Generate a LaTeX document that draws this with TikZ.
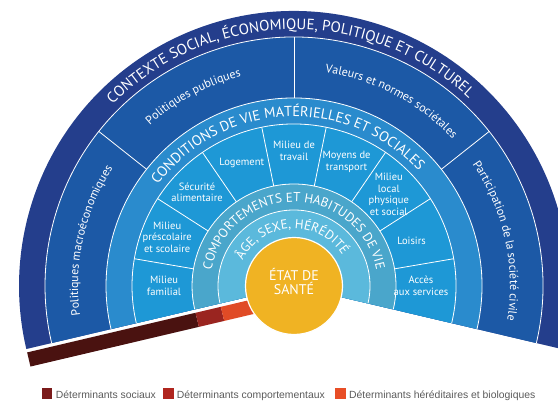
\documentclass[tikz,border=0pt]{standalone}
\usepackage{fontspec}
\setmainfont{PT Sans}
\newfontfamily\legendfont{Liberation Sans}
\usetikzlibrary{calc,decorations.text}

\definecolor{cOuter}{HTML}{243E8C}
\definecolor{cPol}{HTML}{1C59A6}
\definecolor{cCond}{HTML}{2A8BCD}
\definecolor{cSect}{HTML}{1E98D6}
\definecolor{cComp}{HTML}{4AA6CB}
\definecolor{cAge}{HTML}{5BB9DC}
\definecolor{cGold}{HTML}{F0B323}
\definecolor{cBarA}{HTML}{4A1210}
\definecolor{cBarB}{HTML}{9A2520}
\definecolor{cBarC}{HTML}{E04B26}
\definecolor{cLegA}{HTML}{7B1B1B}
\definecolor{cLegB}{HTML}{B0261F}
\definecolor{cLegC}{HTML}{E84E26}
\definecolor{cLegText}{HTML}{5A5A5A}

\newcommand\curvedlabel[5]{%
  \path[decorate, decoration={text along path, text align=center,
      text={|\fontsize{#4}{#4}\selectfont\color{white}|#5}}]
    ($(C)+(#2:#1)$) arc[start angle=#2, end angle=#3, radius=#1];
}

\tikzset{
  sepline/.style={white, line width=0.8pt},
  sectlbl/.style={text=white, align=center, inner sep=0pt,
      font=\fontsize{10.5}{11.5}\selectfont},
  goldlbl/.style={text=white, align=center, inner sep=0pt,
      font=\fontsize{14}{14.5}\selectfont},
  legsq/.style={minimum size=10.5pt, inner sep=0pt, draw=none},
  legtxt/.style={anchor=base west, inner sep=0pt, text=cLegText,
      font=\legendfont\fontsize{10.4}{12}\selectfont}
}

\begin{document}
\begin{tikzpicture}[x=1pt,y=1pt]
\useasboundingbox (0,0) rectangle (558,402);
\clip (0,0) rectangle (558,402);
\coordinate (C) at (294,116);
\def\aL{193.25}
\def\aR{-13.25}

% bands (as stacked pie slices)
\foreach \r/\c in {275/cOuter, 249/cPol, 188/cCond, 162/cSect, 102/cComp, 76/cAge} {
  \fill[fill=\c] (C) -- ($(C)+(\aR:\r)$) arc[start angle=\aR, end angle=\aL, radius=\r] -- cycle;
}
% white separating arcs
\foreach \r in {249,188,162,102,76} {
  \draw[sepline] ($(C)+(\aR:\r)$) arc[start angle=\aR, end angle=\aL, radius=\r];
}
% outer sector dividers
\foreach \a in {38.375, 90, 141.625} {
  \draw[sepline] ($(C)+(\a:188)$) -- ($(C)+(\a:249)$);
}
% inner sector dividers
\foreach \k in {1,...,8} {
  \pgfmathsetmacro\a{-13.25+\k*22.9444}
  \draw[sepline] ($(C)+(\a:102)$) -- ($(C)+(\a:162)$);
}

% determinant bars along the left edge
\fill[cBarA] ($(C)+(\aL:102)+(283.25:3.5)$) -- ($(C)+(\aL:275)+(283.25:3.5)$)
  -- ($(C)+(\aL:275)+(283.25:18)$) -- ($(C)+(\aL:102)+(283.25:18)$) -- cycle;
\fill[cBarB] ($(C)+(\aL:76)+(283.25:3.5)$) -- ($(C)+(\aL:102)+(283.25:3.5)$)
  -- ($(C)+(\aL:102)+(283.25:18)$) -- ($(C)+(\aL:76)+(283.25:18)$) -- cycle;
\fill[cBarC] ($(C)+(\aL:30)+(283.25:3.5)$) -- ($(C)+(\aL:76)+(283.25:3.5)$)
  -- ($(C)+(\aL:76)+(283.25:18)$) -- ($(C)+(\aL:30)+(283.25:18)$) -- cycle;

% centre
\filldraw[fill=cGold, draw=white, line width=1.2pt] (C) circle[radius=48.5];
\node[goldlbl] (etat) at ($(C)+(0,4.5)$) {ÉTAT DE\\SANTÉ};

% curved ring titles
\curvedlabel{256.5}{166}{16}{15}{CONTEXTE SOCIAL, ÉCONOMIQUE, POLITIQUE ET CULTUREL}
\curvedlabel{169.5}{170}{16}{14.3}{CONDITIONS DE VIE MATÉRIELLES ET SOCIALES}
\curvedlabel{84}{185}{-5}{13}{COMPORTEMENTS ET HABITUDES DE VIE}
\curvedlabel{57.5}{175}{11}{13}{ÂGE, SEXE, HÉRÉDITÉ}

% outer sectors
\curvedlabel{216}{193.25}{141.625}{12}{Politiques macroéconomiques}
\curvedlabel{216}{144}{92}{12}{Politiques publiques}
\curvedlabel{216}{88}{36.5}{12}{Valeurs et normes sociétales}
\curvedlabel{216}{38.375}{-13.25}{12}{Participation de la société civile}

% inner sectors
\node[sectlbl] (s9) at ($(C)+(180:130)$) {Milieu\\familial};
\node[sectlbl] (s8) at ($(C)+(158.83:136)$) {Milieu\\préscolaire\\et scolaire};
\node[sectlbl] (s7) at ($(C)+(135.89:135)$) {Sécurité\\alimentaire};
\node[sectlbl] (s6) at ($(C)+(112.94:134)$) {Logement};
\node[sectlbl] (s5) at ($(C)+(90:135)$) {Milieu de\\travail};
\node[sectlbl] (s4) at ($(C)+(67.06:135)$) {Moyens de\\transport};
\node[sectlbl] (s3) at ($(C)+(44.11:132)$) {Milieu\\local\\physique\\et social};
\node[sectlbl] (s2) at ($(C)+(21.17:126)$) {Loisirs};
\node[sectlbl] (s1) at ($(C)+(0:127)$) {Accès\\aux services};

% legend
\node[legsq, fill=cLegA] (la) at (47,8.7) {};
\node[legtxt] (ta) at (55.7,3.7) {Déterminants sociaux};
\node[legsq, fill=cLegB] (lb) at (168.6,8.7) {};
\node[legtxt] (tb) at (176.7,3.7) {Déterminants comportementaux};
\node[legsq, fill=cLegC] (lc) at (340.3,8.7) {};
\node[legtxt] (tc) at (349,3.7) {Déterminants héréditaires et biologiques};
\end{tikzpicture}
\end{document}
